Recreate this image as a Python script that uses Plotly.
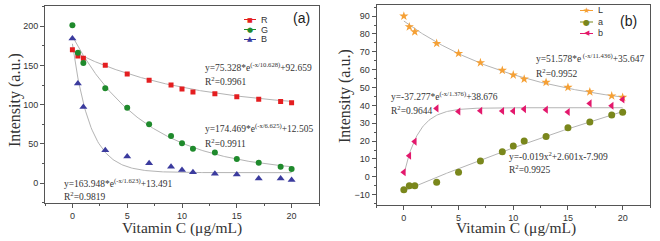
import numpy as np
import plotly.graph_objects as go

# ---------------- data ----------------
conc = [0, 0.5, 1, 3, 5, 7, 9, 10, 11, 13, 15, 17, 19, 20]

R_vals = [170, 162, 159, 150, 139, 131, 125, 120, 116, 114, 110, 107, 104, 102.5]
G_vals = [201, 166, 153, 121, 96, 75, 60, 51, 44, 39, 31, 26, 21, 18]
B_vals = [184, 127, 97, 42, 34, 25.5, 21, 17, 14, 12, 11, 6, 6, 4]

L_vals = [90, 84, 81.2, 74.7, 69.1, 63.9, 59.6, 57, 54.7, 52.9, 50.1, 47.6, 45.3, 44.5]
a_vals = [-7.2, -5, -5, -3.1, 2.5, 8.8, 14, 17.2, 20, 22.5, 27.5, 30.7, 34.6, 36.1]
b_vals = [2.5, 11.8, 19.7, 38.3, 36.6, 37, 36.8, 36.8, 37.9, 37.6, 36.3, 41.1, 39.8, 43.3]

# fit parameters as printed on the chart: y = A*exp(-x/t)+y0
R_fit = [75.328, 10.628, 92.659]
G_fit = [174.469, 6.625, 12.505]
B_fit = [163.948, 1.623, 13.491]
L_fit = [51.578, 11.436, 35.647]
b_fit = [-37.277, 1.376, 38.676]
a_poly = [-0.019, 2.601, -7.909]   # y = c2 x^2 + c1 x + c0

x_title = "Vitamin C (μg/mL)"
y_title = "Intensity (a.u.)"

# ---------------- styles ----------------
FRAME = "#555555"
FITC = "#b4b4b4"
serif = "Liberation Serif"
sans = "Liberation Sans"

xf = np.linspace(0, 20, 201)

def expfit(p):
    return p[0] * np.exp(-xf / p[1]) + p[2]

fig = go.Figure()

def add_fit(y, xa, ya):
    fig.add_trace(go.Scatter(x=xf, y=y, mode="lines", xaxis=xa, yaxis=ya,
                             line=dict(color=FITC, width=1), showlegend=False,
                             hoverinfo="skip"))

def add_pts(y, xa, ya, color, symbol, size):
    fig.add_trace(go.Scatter(x=conc, y=y, mode="markers", xaxis=xa, yaxis=ya,
                             marker=dict(color=color, symbol=symbol, size=size,
                                         line=dict(width=0)),
                             showlegend=False))

colR, colG, colB = "#e41e20", "#1f8a2c", "#3b3b9e"
colL, cola, colb = "#f5a035", "#7a871c", "#e3186c"

add_fit(expfit(R_fit), "x", "y")
add_fit(expfit(G_fit), "x", "y")
add_fit(expfit(B_fit), "x", "y")
add_pts(R_vals, "x", "y", colR, "square", 5)
add_pts(G_vals, "x", "y", colG, "circle", 6)
add_pts(B_vals, "x", "y", colB, "triangle-up", 7)

add_fit(expfit(L_fit), "x2", "y2")
add_fit(expfit(b_fit), "x2", "y2")
add_fit(a_poly[0] * xf ** 2 + a_poly[1] * xf + a_poly[2], "x2", "y2")
add_pts(L_vals, "x2", "y2", colL, "star", 7)
add_pts(a_vals, "x2", "y2", cola, "circle", 7)
add_pts(b_vals, "x2", "y2", colb, "triangle-left", 7)

W, H = 660, 241

def px(x):
    return x / W

def py(y):
    return 1 - y / H

axis_common = dict(showline=True, linecolor=FRAME, linewidth=1, mirror=True,
                   ticks="outside", ticklen=4, tickcolor=FRAME, tickwidth=1,
                   showgrid=False, zeroline=False,
                   tickfont=dict(family=sans, size=9, color="#333333"))

fig.update_layout(
    width=W, height=H, margin=dict(l=0, r=0, t=0, b=0),
    paper_bgcolor="white", plot_bgcolor="white", showlegend=False,
    xaxis=dict(domain=[px(45), px(319)], range=[-2.5, 22.5], dtick=5,
               anchor="y", minor=dict(dtick=2.5, ticklen=2, tickcolor=FRAME, ticks="outside"),
               **axis_common),
    yaxis=dict(domain=[py(203.3), py(6)], range=[-25.5, 225.5], dtick=50,
               anchor="x", minor=dict(dtick=25, ticklen=2, tickcolor=FRAME, ticks="outside"),
               **axis_common),
    xaxis2=dict(domain=[px(376.5), px(650)], range=[-2.5, 22.5], dtick=5,
                anchor="y2", minor=dict(dtick=2.5, ticklen=2, tickcolor=FRAME, ticks="outside"),
                **axis_common),
    yaxis2=dict(domain=[py(205), py(5)], range=[-15.8, 96.2], dtick=10,
                anchor="x2", minor=dict(dtick=5, ticklen=2, tickcolor=FRAME, ticks="outside"),
                **axis_common),
)

ann = []

def text(x, y, s, size=9.5, family=serif, color="#333333", xanchor="left", angle=0):
    ann.append(dict(x=px(x), y=py(y), xref="paper", yref="paper", text=s,
                    showarrow=False, xanchor=xanchor, yanchor="middle",
                    textangle=angle, borderpad=0,
                    font=dict(family=family, size=size, color=color)))

# axis titles
text(182, 228, x_title, size=15.5, xanchor="center")
text(516, 228, x_title, size=15.5, xanchor="center")
text(15, 100, y_title, size=16, xanchor="center", angle=-90)
text(345, 96, y_title, size=16, xanchor="center", angle=-90)

# panel labels
text(301, 18, "(a)", size=14, family=sans, color="#222222", xanchor="center")
text(628, 21, "(b)", size=14, family=sans, color="#222222", xanchor="center")

# equations
text(204, 67, "y=75.328*e<sup>(-x/10.628)</sup>+92.659")
text(204, 81, "R<sup>2</sup>=0.9961")
text(204, 128, "y=174.469*e<sup>(-x/6.625)</sup>+12.505")
text(204, 143, "R<sup>2</sup>=0.9911")
text(63, 183, "y=163.948*e<sup>(-x/1.623)</sup>+13.491")
text(63, 196, "R<sup>2</sup>=0.9819")

text(535, 58, "y=51.578*e<sup> (-x/11.436)</sup>+35.647")
text(535, 73, "R<sup>2</sup>=0.9952")
text(390, 96, "y=-37.277*e<sup>(-x/1.376)</sup>+38.676")
text(390, 110, "R<sup>2</sup>=0.9644")
text(508, 156, "y=-0.019x<sup>2</sup>+2.601x-7.909")
text(508, 169, "R<sup>2</sup>=0.9925")

# manual legends
shapes = []

def legend_item(x0, x1, y, color, glyph, gsize, label):
    shapes.append(dict(type="line", xref="paper", yref="paper",
                       x0=px(x0), x1=px(x1), y0=py(y), y1=py(y),
                       line=dict(color=color, width=1)))
    ann.append(dict(x=px((x0 + x1) / 2), y=py(y), xref="paper", yref="paper",
                    text=glyph, showarrow=False, xanchor="center", yanchor="middle",
                    font=dict(family="DejaVu Sans", size=gsize, color=color)))
    text(x1 + 4, y, label, size=9, family=sans, color="#333333")

legend_item(244, 256, 19.5, colR, "■", 6, "R")
legend_item(244, 256, 29.5, colG, "●", 7, "G")
legend_item(244, 256, 39.5, colB, "▲", 7, "B")

legend_item(580, 593, 10.5, colL, "★", 8, "L")
legend_item(580, 593, 22, cola, "●", 8, "a")
legend_item(580, 593, 33.5, colb, "◀", 7, "b")

fig.update_layout(annotations=ann, shapes=shapes)

fig.write_html("out.html", config={"displayModeBar": False},
               post_script="document.body.style.margin='0';document.body.style.overflow='hidden';")
